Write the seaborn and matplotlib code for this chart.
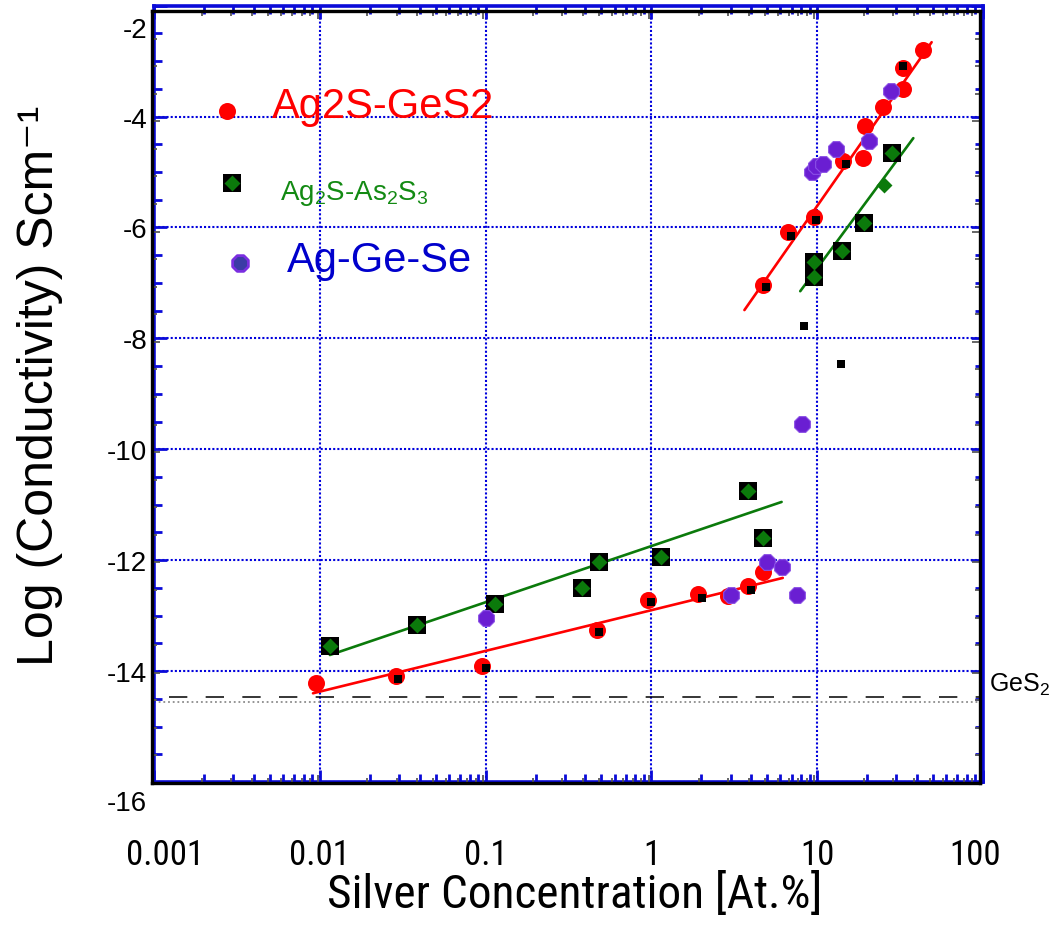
import matplotlib
matplotlib.use("Agg")
import matplotlib.pyplot as plt
import matplotlib.ticker as mticker
from matplotlib.transforms import ScaledTranslation
import seaborn as sns

# ---- data: silver concentration [at.%] vs log10 conductivity [S/cm] ----
# Ag2S-GeS2 glasses
ges_x = [0.0095, 0.029, 0.095, 0.47, 0.96, 1.92, 2.9, 3.85, 4.7,
         4.74, 6.7, 9.6, 14.4, 19.0, 19.4, 25.0, 33.0, 32.7, 43.6]
ges_y = [-14.22, -14.09, -13.91, -13.26, -12.72, -12.61, -12.65, -12.47, -12.21,
         -7.04, -6.08, -5.81, -4.80, -4.75, -4.17, -3.83, -3.50, -3.13, -2.80]

# small black square points
sq_x = [0.0297, 0.10, 0.48, 1.0, 2.03, 4.0, 4.9, 6.97, 9.8, 15.0, 32.7, 8.3, 14.0]
sq_y = [-14.15, -13.95, -13.30, -12.76, -12.69, -12.54, -7.08, -6.15, -5.87,
        -4.86, -3.09, -7.78, -8.46]

# Ag2S-As2S3 glasses (boxed = drawn on a black square)
as_x = [0.0115, 0.0385, 0.114, 0.38, 0.48, 1.15, 3.85, 4.74,
        9.6, 9.6, 14.2, 19.1, 25.4, 28.4]
as_y = [-13.55, -13.17, -12.79, -12.50, -12.03, -11.94, -10.75, -11.60,
        -6.62, -6.89, -6.43, -5.92, -5.24, -4.66]
as_boxed = [True] * 12 + [False, True]

# Ag-Ge-Se glasses
se_x = [0.10, 3.0, 5.0, 6.1, 7.6, 8.1, 9.3, 9.8, 10.9, 13.0, 20.4, 28.0]
se_y = [-13.04, -12.63, -12.03, -12.12, -12.63, -9.55, -5.00, -4.89, -4.86,
        -4.59, -4.44, -3.54]

# linear fits (end points)
ges_fit_lo_x, ges_fit_lo_y = [0.0091, 6.2], [-14.40, -12.32]
ges_fit_hi_x, ges_fit_hi_y = [3.64, 49.0], [-7.49, -2.66]
as_fit_lo_x, as_fit_lo_y = [0.0115, 6.1], [-13.71, -10.95]
as_fit_hi_x, as_fit_hi_y = [7.9, 38.0], [-7.15, -4.39]

# pure GeS2 reference levels
ref_dash_x, ref_dash_y = [0.00123, 100.0], [-14.46, -14.46]
ref_dot_x, ref_dot_y = [0.001, 100.0], [-14.56, -14.56]

x_ticks = [0.001, 0.01, 0.1, 1, 10, 100]
x_tick_labels = ["0.001", "0.01", "0.1", "1", "10", "100"]
y_ticks = [-16, -14, -12, -10, -8, -6, -4, -2]
y_tick_labels = ["-16", "-14", "-12", "-10", "-8", "-6", "-4", "-2"]

# ---- style ----
sns.set_style("white")
plt.rcParams["font.family"] = ["Liberation Sans", "DejaVu Sans"]
plt.rcParams["mathtext.fontset"] = "custom"
plt.rcParams["mathtext.rm"] = "Liberation Sans"
for key in ("text.color", "axes.labelcolor", "xtick.labelcolor", "ytick.labelcolor"):
    plt.rcParams[key] = "black"
NARROW = ["Roboto Condensed", "PT Sans Narrow", "Liberation Sans", "DejaVu Sans"]

RED = "#ff0000"
GREEN = "#0b7a0b"
PURPLE = "#6a1ed2"
GRID_BLUE = "#0000dd"
FRAME_BLUE = "#0a0ad8"

W, H = 1055, 928
fig = plt.figure(figsize=(W / 100, H / 100), dpi=100)
ax = fig.add_axes([154 / W, 1 - 783 / H, 829 / W, 776.4 / H])
frame = fig.add_axes([152 / W, 1 - 784 / H, 828 / W, 772 / H], zorder=5)

for a in (ax, frame):
    a.set_xscale("log")
    a.set_xlim(0.001, 100)
    a.set_ylim(-16, -2)
    a.patch.set_alpha(0)
    a.xaxis.set_major_locator(mticker.FixedLocator(x_ticks))
    a.xaxis.set_minor_locator(mticker.LogLocator(base=10, subs=range(2, 10), numticks=20))
    a.yaxis.set_major_locator(mticker.MultipleLocator(2))
    a.yaxis.set_minor_locator(mticker.MultipleLocator(0.5))

# gridlines
ax.grid(which="major", color=GRID_BLUE, linestyle=(0, (1, 1)), linewidth=1.5)

# black inner frame with short grey ticks
for s in frame.spines.values():
    s.set_color("black")
    s.set_linewidth(2.4)
frame.tick_params(which="both", direction="in", bottom=True, left=True, top=True,
                  right=True, color="0.35", width=1.3, labelleft=False,
                  labelbottom=False)
frame.tick_params(which="major", length=6)
frame.tick_params(which="minor", length=3.5)

# reference levels for GeS2
sns.lineplot(x=ref_dash_x, y=ref_dash_y, ax=ax, color="black", linewidth=1.1,
             sort=False, estimator=None, zorder=2, linestyle=(0, (12, 12)))
sns.lineplot(x=ref_dot_x, y=ref_dot_y, ax=ax, color="0.55", linewidth=1.3,
             sort=False, estimator=None, zorder=2, linestyle=(0, (1, 1.6)))

# fit lines
for fx, fy, c in [(ges_fit_lo_x, ges_fit_lo_y, RED), (ges_fit_hi_x, ges_fit_hi_y, RED),
                  (as_fit_lo_x, as_fit_lo_y, GREEN), (as_fit_hi_x, as_fit_hi_y, GREEN)]:
    sns.lineplot(x=fx, y=fy, ax=ax, color=c, linewidth=1.9, sort=False,
                 estimator=None, zorder=3)

# Ag2S-As2S3 : green diamonds on black squares
bx = [x for x, b in zip(as_x, as_boxed) if b]
by = [y for y, b in zip(as_y, as_boxed) if b]
sns.scatterplot(x=bx, y=by, ax=ax, marker="s", s=180, color="black",
                linewidth=0, zorder=4)
sns.scatterplot(x=as_x, y=as_y, ax=ax, marker="D", s=66, color=GREEN,
                linewidth=0, zorder=5)

# Ag2S-GeS2 : red circles
sns.scatterplot(x=ges_x, y=ges_y, ax=ax, marker="o", s=150, color=RED,
                linewidth=0, zorder=6)
sns.scatterplot(x=sq_x, y=sq_y, ax=ax, marker="s", s=26, color="black",
                linewidth=0, zorder=7)

# Ag-Ge-Se : purple octagons
sns.scatterplot(x=se_x, y=se_y, ax=ax, marker="8", s=150, color=PURPLE,
                edgecolor="#8a4fe6", linewidth=0.8, zorder=8)

# in-plot key
ax.scatter([0.0881], [0.8642], transform=ax.transAxes, marker="o", s=150,
           color=RED, linewidth=0, zorder=9, clip_on=False)
ax.scatter([0.0941], [0.7715], transform=ax.transAxes, marker="s", s=180,
           color="black", linewidth=0, zorder=9, clip_on=False)
ax.scatter([0.0941], [0.7715], transform=ax.transAxes, marker="D", s=66,
           color=GREEN, linewidth=0, zorder=10, clip_on=False)
ax.scatter([0.1037], [0.6685], transform=ax.transAxes, marker="8", s=150,
           color="#3b3ba6", edgecolor="#7a2ee0", linewidth=2, zorder=9, clip_on=False)
ax.text(0.1423, 0.8565, "Ag2S-GeS2", transform=ax.transAxes, color=RED,
        fontsize=30, va="baseline", ha="left")
ax.text(0.152, 0.7509, r"Ag$\mathregular{_2}$S-As$\mathregular{_2}$S$\mathregular{_3}$",
        transform=ax.transAxes, color="#138a13", fontsize=20, va="baseline", ha="left")
ax.text(0.1604, 0.6582, "Ag-Ge-Se", transform=ax.transAxes, color="#0000cc",
        fontsize=30, va="baseline", ha="left")
ax.text(1.0072, 0.1172, r"GeS$\mathregular{_2}$", transform=ax.transAxes,
        color="black", fontsize=18, va="baseline", ha="left", clip_on=False)

# blue outer frame with inward ticks
for s in ax.spines.values():
    s.set_color(FRAME_BLUE)
    s.set_linewidth(2.6)
    s.set_zorder(6)

# tick labels
ax.set_xticks(x_ticks)
ax.set_xticklabels(x_tick_labels, fontsize=25, fontfamily=NARROW)
ax.set_yticks(y_ticks)
ax.set_yticklabels(y_tick_labels, fontsize=20)
ax.tick_params(which="both", direction="in", bottom=True, left=True, top=True,
               right=True, color=FRAME_BLUE, width=2, zorder=6)
ax.tick_params(which="major", length=9)
ax.tick_params(which="minor", length=5.5)
ax.tick_params(axis="x", which="major", pad=40)
ax.tick_params(axis="y", which="major", pad=5)
ax.tick_params(labeltop=False, labelright=False)

# axis titles
ax.set_xlabel("Silver Concentration [At.%]", fontsize=34, fontfamily=NARROW)
ax.xaxis.set_label_coords(0.508, -0.1145)
ax.set_ylabel("Log (Conductivity) Scm\u207b\u00b9", fontsize=36)
ax.yaxis.set_label_coords(-0.110, 0.511)


def nudge(label, dx_px, dy_px):
    """Shift a tick label by a few pixels from its tick."""
    label.set_transform(label.get_transform()
                        + ScaledTranslation(dx_px / 100, dy_px / 100, fig.dpi_scale_trans))


# labels at the ends of both axes sit inward from their ticks
ylabels = ax.get_yticklabels()
nudge(ylabels[0], 0, -18)
nudge(ylabels[-1], 0, -21)
xlabels = ax.get_xticklabels()
nudge(xlabels[0], 11, 0)
nudge(xlabels[-1], -8, 0)

fig.savefig("out.png", dpi=100, facecolor="white")
